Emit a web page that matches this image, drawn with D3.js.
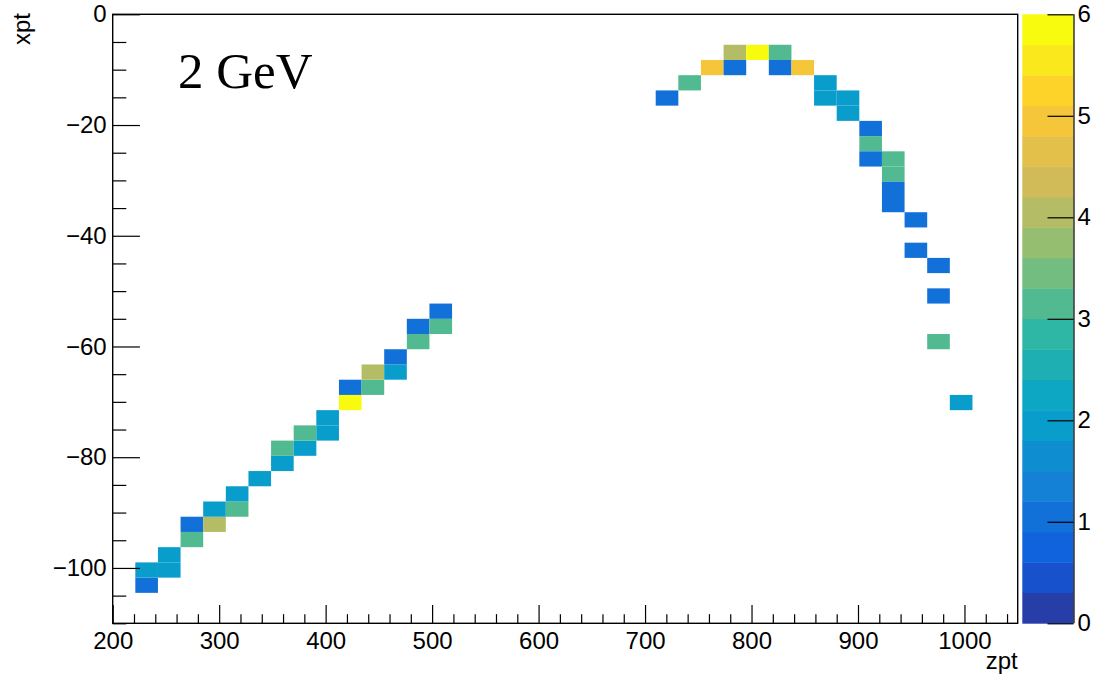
<!DOCTYPE html>
<html>
<head>
<meta charset="utf-8">
<script src="https://cdn.jsdelivr.net/npm/d3@7"></script>
<style>
  html, body { margin: 0; padding: 0; background: #fff; }
  svg { display: block; }
  .lbl { font-family: "Liberation Sans", Arial, Helvetica, sans-serif; font-size: 24px; fill: #000; }
</style>
</head>
<body>
<svg id="chart" width="1102" height="681"></svg>
<script>
// Histogram binning (zpt on x, xpt on y)
const zptRange = [200, 1050];
const zptBinCount = 40;
const xptRange = [-110, 0];
const xptBinCount = 40;

// Filled cells: bin-centre zpt, bin-centre xpt, entries
const cellZpt = [
  232, 232, 253, 253, 274, 274, 296, 296, 317, 317, 338, 359, 359, 381, 381,
  402, 402, 423, 423, 444, 444, 466, 466, 487, 487, 508, 508,
  721, 742, 763, 784, 784, 806, 827, 827, 848, 869, 869, 891, 891,
  912, 912, 912, 933, 933, 933, 933, 954, 954, 976, 976, 976, 997
];
const cellXpt = [
  -103.1, -100.4, -100.4, -97.6, -94.9, -92.1, -92.1, -89.4, -89.4, -86.6, -83.9, -81.1, -78.4, -78.4, -75.6,
  -75.6, -72.9, -70.1, -67.4, -67.4, -64.6, -64.6, -61.9, -59.1, -56.4, -56.4, -53.6,
  -15.1, -12.4, -9.6, -9.6, -6.9, -6.9, -6.9, -9.6, -9.6, -12.4, -15.1, -15.1, -17.9,
  -20.6, -23.4, -26.1, -26.1, -28.9, -31.6, -34.4, -37.1, -42.6, -45.4, -50.9, -59.1, -70.1
];
const cellCount = [
  1, 2, 2, 2, 3, 1, 4, 2, 3, 2, 2, 2, 3, 2, 3,
  2, 2, 6, 1, 3, 4, 2, 1, 3, 1, 3, 1,
  1, 3, 5, 1, 4, 6, 3, 1, 5, 2, 2, 2, 2,
  1, 3, 1, 3, 3, 1, 1, 1, 1, 1, 1, 3, 2
];

// Axis ticks
const zptMajorTicks = [200, 300, 400, 500, 600, 700, 800, 900, 1000];
const xptMajorTicks = [0, -20, -40, -60, -80, -100];
const zTicks = [0, 1, 2, 3, 4, 5, 6];
const zRange = [0, 6];
const contourLevels = 20;
const annotation = "2 GeV";

// kBird colour stops
const birdStops = [0, 0.125, 0.25, 0.375, 0.5, 0.625, 0.75, 0.875, 1];
const birdR = [0.2082, 0.0592, 0.0780, 0.0232, 0.1802, 0.5301, 0.8186, 0.9956, 0.9764];
const birdG = [0.1664, 0.3599, 0.5041, 0.6419, 0.7178, 0.7492, 0.7328, 0.7862, 0.9832];
const birdB = [0.5293, 0.8684, 0.8385, 0.7914, 0.6425, 0.4662, 0.3499, 0.1968, 0.0539];

const svg = d3.select("#chart");
const frame = { left: 112.7, top: 14.3, right: 1017.7, bottom: 623.3 };
const pal = { left: 1022.3, right: 1073.5 };

const x = d3.scaleLinear().domain(zptRange).range([frame.left, frame.right]);
const y = d3.scaleLinear().domain(xptRange).range([frame.bottom, frame.top]);

// palette: 255-entry gradient, sampled once per contour level
const birdColour = d3.scaleLinear()
  .domain(birdStops)
  .range(birdStops.map((s, i) => d3.rgb(birdR[i] * 255, birdG[i] * 255, birdB[i] * 255)))
  .interpolate(d3.interpolateRgb);
function levelColour(level) {
  const j = Math.floor((level + 0.99) * 255 / contourLevels);
  return birdColour(Math.min(j, 254) / 254);
}
function levelOf(v) {
  const l = Math.floor(0.01 + (v - zRange[0]) * contourLevels / (zRange[1] - zRange[0]));
  return Math.max(0, Math.min(contourLevels - 1, l));
}

// bin edges from the binning definition
const zptWidth = (zptRange[1] - zptRange[0]) / zptBinCount;
const xptWidth = (xptRange[1] - xptRange[0]) / xptBinCount;
const cells = cellCount.map((c, i) => {
  const ix = Math.floor((cellZpt[i] - zptRange[0]) / zptWidth);
  const iy = Math.floor((cellXpt[i] - xptRange[0]) / xptWidth);
  return {
    z0: zptRange[0] + ix * zptWidth, z1: zptRange[0] + (ix + 1) * zptWidth,
    p0: xptRange[0] + iy * xptWidth, p1: xptRange[0] + (iy + 1) * xptWidth,
    count: c
  };
});

// cells
svg.append("g").selectAll("rect").data(cells).join("rect")
  .attr("x", d => x(d.z0))
  .attr("y", d => y(d.p1))
  .attr("width", d => x(d.z1) - x(d.z0))
  .attr("height", d => y(d.p0) - y(d.p1))
  .attr("fill", d => levelColour(levelOf(d.count)));

// frame
svg.append("rect")
  .attr("x", frame.left).attr("y", frame.top)
  .attr("width", frame.right - frame.left).attr("height", frame.bottom - frame.top)
  .attr("fill", "none").attr("stroke", "#000").attr("stroke-width", 1.4);

// x axis (ticks drawn inward)
const xMajorLen = 18.3, yMajorLen = 27.2;
const zptMinorTicks = d3.range(zptRange[0], zptRange[1] + 0.001, 20).filter(v => v % 100 !== 0);
const xptMinorTicks = d3.range(xptRange[0], xptRange[1] + 0.001, 5).filter(v => v % 20 !== 0);

const gx = svg.append("g").attr("transform", `translate(0,${frame.bottom})`);
gx.call(d3.axisBottom(x).tickValues(zptMajorTicks).tickSize(-xMajorLen).tickPadding(9).tickFormat(d3.format("d")));
const gxm = svg.append("g").attr("transform", `translate(0,${frame.bottom})`);
gxm.call(d3.axisBottom(x).tickValues(zptMinorTicks).tickSize(-xMajorLen / 2).tickFormat(""));

const gy = svg.append("g").attr("transform", `translate(${frame.left},0)`);
gy.call(d3.axisLeft(y).tickValues(xptMajorTicks).tickSize(-yMajorLen).tickPadding(6).tickFormat(d3.format("d")));
const gym = svg.append("g").attr("transform", `translate(${frame.left},0)`);
gym.call(d3.axisLeft(y).tickValues(xptMinorTicks).tickSize(-yMajorLen / 2).tickFormat(""));

[gx, gxm, gy, gym].forEach(g => {
  g.select(".domain").remove();
  g.selectAll(".tick line").attr("stroke", "#000").attr("stroke-width", 1.2);
  g.selectAll("text").attr("class", "lbl").attr("font-family", null).attr("font-size", null);
});

// axis titles
svg.append("text").attr("class", "lbl")
  .attr("x", frame.right).attr("y", 669).attr("text-anchor", "end").text("zpt");
svg.append("text").attr("class", "lbl")
  .attr("transform", `translate(30,13) rotate(-90)`)
  .attr("text-anchor", "end").text("xpt");

// colour palette
const zs = d3.scaleLinear().domain(zRange).range([frame.bottom, frame.top]);
const levels = d3.range(contourLevels);
const levelStep = (zRange[1] - zRange[0]) / contourLevels;
svg.append("g").selectAll("rect").data(levels).join("rect")
  .attr("x", pal.left)
  .attr("y", l => zs(zRange[0] + (l + 1) * levelStep))
  .attr("width", pal.right - pal.left)
  .attr("height", l => zs(zRange[0] + l * levelStep) - zs(zRange[0] + (l + 1) * levelStep) + 0.4)
  .attr("fill", l => levelColour(l));

const gz = svg.append("g").attr("transform", `translate(${pal.right},0)`);
gz.call(d3.axisRight(zs).tickValues(zTicks).tickSize(-26).tickPadding(4).tickFormat(d3.format("d")));
gz.select(".domain").attr("d", `M0.5,${frame.top}V${frame.bottom}`).attr("stroke", "#000").attr("stroke-width", 1.2);
gz.selectAll(".tick line").attr("stroke", "#000").attr("stroke-width", 1.2);
gz.selectAll("text").attr("class", "lbl").attr("font-family", null).attr("font-size", null);

// energy annotation
svg.append("text")
  .attr("x", 178).attr("y", 88)
  .attr("font-family", "'Liberation Serif', 'Times New Roman', serif")
  .attr("font-size", 51)
  .text(annotation);
</script>
</body>
</html>
